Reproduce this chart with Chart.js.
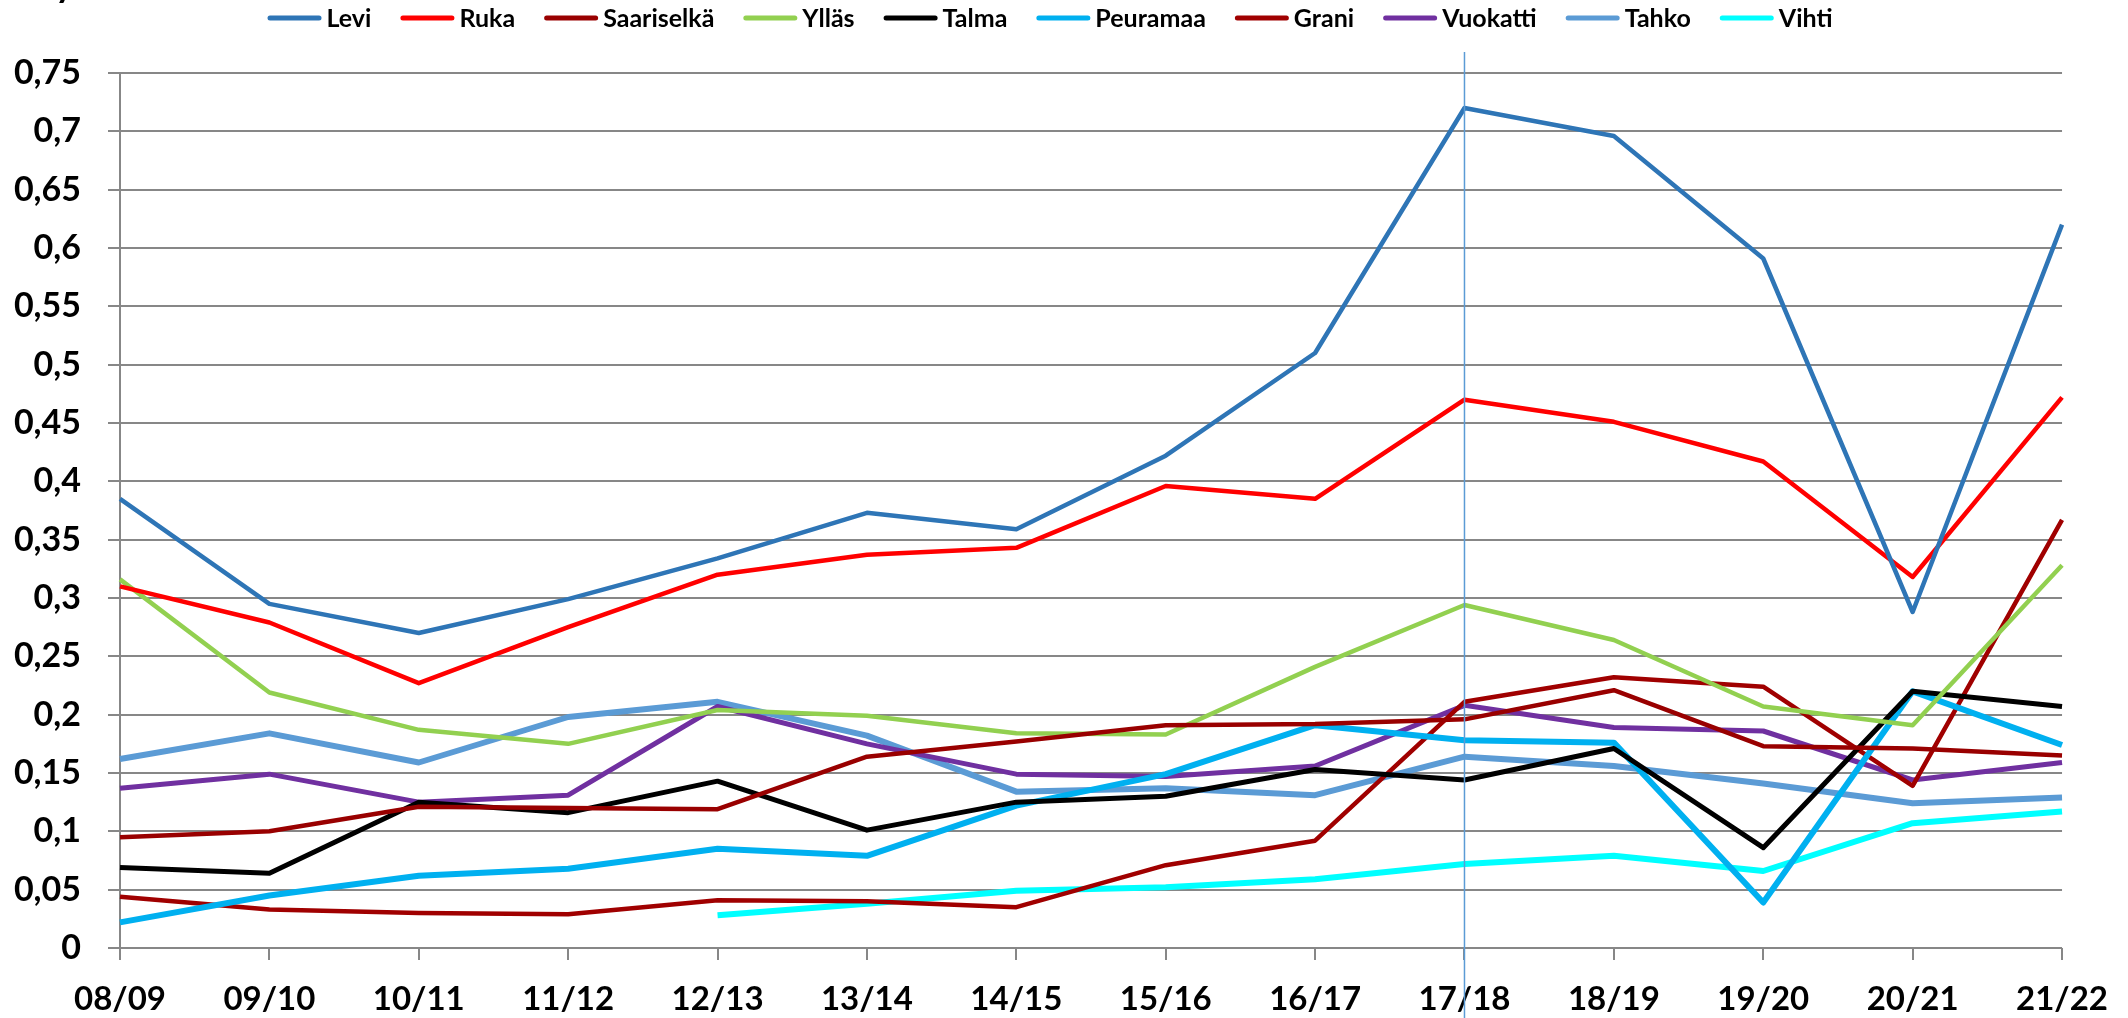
<!DOCTYPE html>
<html>
<head>
<meta charset="utf-8">
<script src="https://cdn.jsdelivr.net/npm/chart.js@4/dist/chart.umd.min.js"></script>
<style>
  html, body { margin: 0; padding: 0; background: #fff; }
  canvas { display: block; }
</style>
</head>
<body>
<canvas id="myChart" width="2128" height="1018"></canvas>
<script>
const seasons = ['08/09', '09/10', '10/11', '11/12', '12/13', '13/14', '14/15', '15/16', '16/17', '17/18', '18/19', '19/20', '20/21', '21/22'];

const levi = [0.385, 0.295, 0.270, 0.299, 0.334, 0.373, 0.359, 0.422, 0.510, 0.720, 0.696, 0.591, 0.288, 0.620];
const ruka = [0.310, 0.279, 0.227, 0.275, 0.320, 0.337, 0.343, 0.396, 0.385, 0.470, 0.451, 0.417, 0.318, 0.472];
const saariselka = [0.095, 0.100, 0.121, 0.120, 0.119, 0.164, 0.177, 0.191, 0.192, 0.196, 0.221, 0.173, 0.171, 0.165];
const yllas = [0.316, 0.219, 0.187, 0.175, 0.204, 0.199, 0.184, 0.183, 0.241, 0.294, 0.264, 0.207, 0.191, 0.328];
const talma = [0.069, 0.064, 0.125, 0.116, 0.143, 0.101, 0.125, 0.130, 0.153, 0.144, 0.171, 0.086, 0.220, 0.207];
const peuramaa = [0.022, 0.045, 0.062, 0.068, 0.085, 0.079, 0.122, 0.149, 0.191, 0.178, 0.176, 0.039, 0.220, 0.174];
const grani = [0.044, 0.033, 0.030, 0.029, 0.041, 0.040, 0.035, 0.071, 0.092, 0.211, 0.232, 0.224, 0.139, 0.367];
const vuokatti = [0.137, 0.149, 0.125, 0.131, 0.207, 0.175, 0.149, 0.147, 0.156, 0.208, 0.189, 0.186, 0.144, 0.159];
const tahko = [0.162, 0.184, 0.159, 0.198, 0.211, 0.182, 0.134, 0.137, 0.131, 0.164, 0.156, 0.141, 0.124, 0.129];
const vihti = [null, null, null, null, 0.028, 0.038, 0.049, 0.052, 0.059, 0.072, 0.079, 0.066, 0.107, 0.117];

const names = ['Levi', 'Ruka', 'Saariselkä', 'Ylläs', 'Talma', 'Peuramaa', 'Grani', 'Vuokatti', 'Tahko', 'Vihti'];
const colors = ['#2E75B6', '#FF0000', '#990000', '#92D050', '#000000', '#00B0F0', '#A00000', '#7030A0', '#5B9BD5', '#00FFFF'];
const widths = [4.5, 4.5, 4.5, 4.5, 5, 6, 4.5, 5, 6, 6];
const series = [levi, ruka, saariselka, yllas, talma, peuramaa, grani, vuokatti, tahko, vihti];

const markedSeason = '17/18';
const gridColor = '#878787';
const fontFam = 'Lato, "Open Sans", "DejaVu Sans", sans-serif';

const datasets = names.map((name, i) => ({
    label: name,
    data: series[i],
    borderColor: colors[i],
    backgroundColor: colors[i],
    borderWidth: widths[i],
    pointRadius: 0,
    tension: 0,
    borderJoinStyle: 'round',
    fill: false,
}));

// legend drawn by hand so the spacing follows the original
const legendPlugin = {
    id: 'topLegend',
    afterDraw(chart) {
        const ctx = chart.ctx;
        ctx.save();
        ctx.font = 'bold 25px ' + fontFam;
        const lineLen = 54, gapAfterLine = 5, gapAfterText = 29;
        const items = chart.data.datasets.map(ds => ({
            text: ds.label, color: ds.borderColor, w: ctx.measureText(ds.label).width
        }));
        let total = 0;
        items.forEach((it, i) => {
            total += lineLen + gapAfterLine + it.w + (i < items.length - 1 ? gapAfterText : 0);
        });
        let x = 1050 - total / 2;
        const y = 18;
        items.forEach(it => {
            ctx.strokeStyle = it.color;
            ctx.lineWidth = 5;
            ctx.lineCap = 'round';
            ctx.beginPath();
            ctx.moveTo(x + 2.5, y);
            ctx.lineTo(x + lineLen - 2.5, y);
            ctx.stroke();
            x += lineLen + gapAfterLine;
            ctx.fillStyle = '#000';
            ctx.textBaseline = 'middle';
            ctx.textAlign = 'left';
            ctx.fillText(it.text, x, y + 1);
            x += it.w + gapAfterText;
        });
        // cut-off title fragment in the top-left corner
        ctx.font = 'bold 36px ' + fontFam;
        ctx.textBaseline = 'alphabetic';
        ctx.fillText('y', 55, -3);
        ctx.restore();
    }
};

// thin marker line at one season
const markerPlugin = {
    id: 'seasonMarker',
    afterDatasetsDraw(chart) {
        const xs = chart.scales.x;
        const px = xs.getPixelForValue(seasons.indexOf(markedSeason));
        const ctx = chart.ctx;
        ctx.save();
        ctx.strokeStyle = '#5B9BD5';
        ctx.lineWidth = 1.5;
        ctx.beginPath();
        ctx.moveTo(px, 52);
        ctx.lineTo(px, chart.height);
        ctx.stroke();
        ctx.restore();
    }
};

const ctx = document.getElementById('myChart');
const chart = new Chart(ctx, {
    type: 'line',
    data: {
        labels: seasons,
        datasets: datasets
    },
    options: {
        responsive: false,
        animation: false,
        layout: {
            padding: { top: 73, right: 64, bottom: 0, left: 0 }
        },
        plugins: {
            legend: { display: false },
            tooltip: { enabled: false },
            title: { display: false }
        },
        scales: {
            x: {
                offset: false,
                grid: {
                    drawOnChartArea: false,
                    drawTicks: true,
                    tickLength: 12,
                    color: gridColor,
                    lineWidth: 2
                },
                border: { display: false },
                ticks: {
                    color: '#000',
                    padding: 20,
                    maxRotation: 0,
                    autoSkip: false,
                    font: { family: fontFam, size: 33, weight: 'bold' }
                },
                afterFit(scale) { scale.height = 70; }
            },
            y: {
                min: 0,
                max: 0.75,
                grid: {
                    color: gridColor,
                    lineWidth: 2,
                    tickLength: 12
                },
                border: { display: true, color: gridColor, width: 2 },
                ticks: {
                    stepSize: 0.05,
                    color: '#000',
                    padding: 27,
                    font: { family: fontFam, size: 34, weight: 'bold' },
                    callback: v => String(+v.toFixed(2)).replace('.', ',')
                },
                afterFit(scale) { scale.width = 120; }
            }
        }
    },
    plugins: [legendPlugin, markerPlugin]
});
</script>
</body>
</html>
